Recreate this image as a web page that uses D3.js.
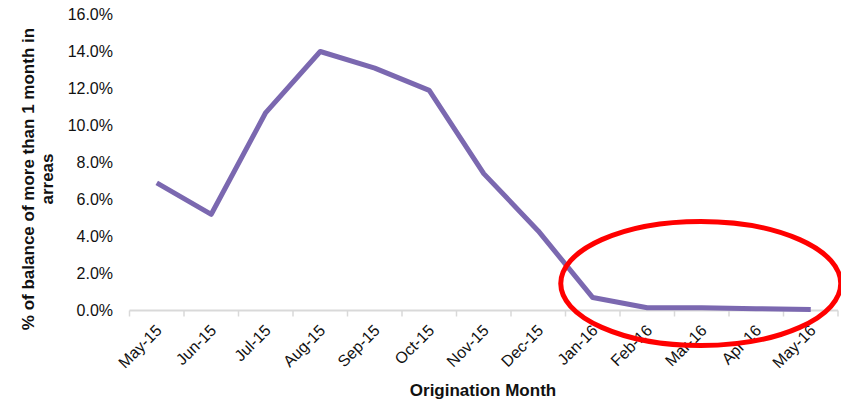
<!DOCTYPE html>
<html>
<head>
<meta charset="utf-8">
<script src="https://cdn.jsdelivr.net/npm/d3@7"></script>
<style>
  body { margin: 0; background: #fff; }
  svg text { font-family: "Liberation Sans", Arial, sans-serif; fill: #111; }
</style>
</head>
<body>
<svg class="chart-svg" width="841" height="402"></svg>
<script>
// data
const months = ["May-15", "Jun-15", "Jul-15", "Aug-15", "Sep-15", "Oct-15", "Nov-15",
                "Dec-15", "Jan-16", "Feb-16", "Mar-16", "Apr-16", "May-16"];
const arrearsPct = [6.9, 5.2, 10.7, 14.0, 13.1, 11.9, 7.4, 4.3, 0.7, 0.15, 0.15, 0.1, 0.05];
const yTicks = [0, 2, 4, 6, 8, 10, 12, 14, 16];

function drawChart() {
    const svg = d3.select(".chart-svg");
    const margin = { left: 129.5, right: 3, top: 14.5, bottom: 91.5 };
    const width = +svg.attr("width");
    const height = +svg.attr("height");

    const x = d3.scaleBand()
        .domain(months)
        .range([margin.left, width - margin.right]);
    const y = d3.scaleLinear()
        .domain([0, 16])
        .range([height - margin.bottom, margin.top]);

    // x axis line and ticks at band edges
    const xAxis = svg.append("g")
        .attr("transform", `translate(0,${y(0)})`);
    xAxis.append("line")
        .attr("x1", x.range()[0]).attr("x2", x.range()[1])
        .attr("stroke", "#d9d9d9").attr("stroke-width", 2);
    xAxis.selectAll(".tk")
        .data(months.map(m => x(m)).concat([x.range()[1]]))
        .enter().append("line")
        .attr("x1", d => d).attr("x2", d => d)
        .attr("y1", 0).attr("y2", 6)
        .attr("stroke", "#d9d9d9").attr("stroke-width", 1.5);
    xAxis.selectAll("text")
        .data(months)
        .enter().append("text")
        .attr("text-anchor", "end")
        .attr("font-size", 16)
        .attr("transform", d => `translate(${x(d) + x.bandwidth() / 2 + 2},${17}) rotate(-45)`)
        .attr("dy", "0.35em")
        .text(d => d);

    // y tick labels
    svg.append("g").selectAll("text")
        .data(yTicks)
        .enter().append("text")
        .attr("x", 113)
        .attr("y", d => y(d))
        .attr("dy", "0.35em")
        .attr("text-anchor", "end")
        .attr("font-size", 16)
        .text(d => d3.format(".1f")(d) + "%");

    // the line
    const line = d3.line()
        .x((d, i) => x(months[i]) + x.bandwidth() / 2)
        .y(d => y(d));
    svg.append("path")
        .datum(arrearsPct)
        .attr("fill", "none")
        .attr("stroke", "#7b68b0")
        .attr("stroke-width", 5)
        .attr("stroke-linejoin", "round")
        .attr("d", line);

    // axis titles
    svg.append("text")
        .attr("x", 483).attr("y", 396)
        .attr("text-anchor", "middle")
        .attr("font-size", 17).attr("font-weight", "bold")
        .text("Origination Month");

    const yTitle = svg.append("text")
        .attr("transform", "translate(34,179) rotate(-90)")
        .attr("text-anchor", "middle")
        .attr("font-size", 17).attr("font-weight", "bold");
    yTitle.append("tspan").attr("x", 0).attr("dy", 0).text("% of balance of more than 1 month in");
    yTitle.append("tspan").attr("x", 0).attr("dy", 19).text("arreas");

    // red highlight ellipse round the recent months
    const cx = x("Mar-16") + x.bandwidth() / 2 - 1;
    svg.append("ellipse")
        .attr("cx", cx).attr("cy", 283.5)
        .attr("rx", 140).attr("ry", 62)
        .attr("fill", "none")
        .attr("stroke", "#ff0000")
        .attr("stroke-width", 5);
}

document.addEventListener("DOMContentLoaded", drawChart);
</script>
</body>
</html>
